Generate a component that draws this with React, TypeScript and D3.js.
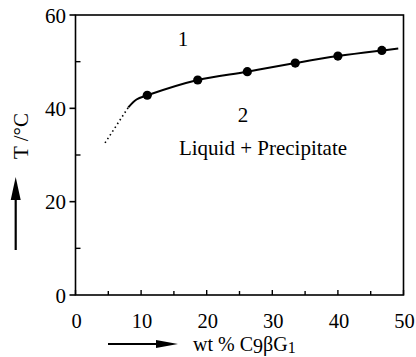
import React from "react";
import * as d3 from "d3";

const pointX = [10.94, 18.63, 26.19, 33.5, 40.0, 46.7];
const pointY = [42.8, 46.07, 47.85, 49.7, 51.2, 52.4];
const curveX = [8.05, 9.3, 10.94, 18.63, 26.19, 33.5, 40.0, 46.7, 49.2];
const curveY = [40.2, 41.9, 42.8, 46.07, 47.85, 49.7, 51.2, 52.4, 52.8];
const dottedX = [4.5, 8.05];
const dottedY = [32.6, 40.2];
const xTicks = [0, 10, 20, 30, 40, 50];
const xMinor = [5, 15, 25, 35, 45];
const yTicks = [0, 20, 40, 60];
const yMinor = [10, 30, 50];

const W = 416, H = 357;
const L = 75.5, R = 403.5, T = 15, B = 295;
const FONT = "Liberation Serif, DejaVu Serif, serif";

export default function App() {
  const x = d3.scaleLinear().domain([0, 50]).range([L, R]);
  const y = d3.scaleLinear().domain([0, 60]).range([B, T]);
  const line = d3.line<[number, number]>().x(d => x(d[0])).y(d => y(d[1])).curve(d3.curveCatmullRom.alpha(0.5));
  const curvePts: [number, number][] = curveX.map((v, i) => [v, curveY[i]]);
  const dotPts: [number, number][] = dottedX.map((v, i) => [v, dottedY[i]]);
  const straight = d3.line<[number, number]>().x(d => x(d[0])).y(d => y(d[1]));
  return (
    <svg width={W} height={H} style={{ position: "absolute", left: 0, top: 0, background: "#fff" }} fontFamily={FONT}>
      <rect x={L} y={T} width={R - L} height={B - T} fill="none" stroke="#000" strokeWidth={1.6} />
      {yTicks.map(t => (
        <g key={"y" + t}>
          <line x1={L - 6} x2={L} y1={y(t)} y2={y(t)} stroke="#000" strokeWidth={1.6} />
          <text x={66} y={y(t) + 3} fontSize={21} textAnchor="end" dominantBaseline="middle">{t}</text>
        </g>
      ))}
      {yMinor.map(t => (
        <line key={"ym" + t} x1={L} x2={L + 5} y1={y(t)} y2={y(t)} stroke="#000" strokeWidth={1.4} />
      ))}
      {xTicks.map(t => (
        <g key={"x" + t}>
          <line x1={x(t)} x2={x(t)} y1={B} y2={B - 5} stroke="#000" strokeWidth={1.4} />
          <text x={x(t) + 1} y={328} fontSize={20.5} textAnchor="middle">{t}</text>
        </g>
      ))}
      {xMinor.map(t => (
        <line key={"xm" + t} x1={x(t)} x2={x(t)} y1={B} y2={B - 4} stroke="#000" strokeWidth={1.4} />
      ))}
      <path d={straight(dotPts) || ""} fill="none" stroke="#000" strokeWidth={1.6} strokeDasharray="1.5 3" />
      <path d={line(curvePts) || ""} fill="none" stroke="#000" strokeWidth={2} />
      {pointX.map((v, i) => (
        <circle key={"p" + i} cx={x(v)} cy={y(pointY[i])} r={4.6} fill="#000" />
      ))}
      <text x={183} y={41} fontSize={21} textAnchor="middle" dominantBaseline="middle">1</text>
      <text x={243} y={117} fontSize={21} textAnchor="middle" dominantBaseline="middle">2</text>
      <text x={263} y={150} fontSize={21} textAnchor="middle" dominantBaseline="middle">Liquid + Precipitate</text>
      <text transform="translate(28,136) rotate(-90)" fontSize={21} textAnchor="middle">T /°C</text>
      <line x1={15.7} y1={250} x2={15.7} y2={198} stroke="#000" strokeWidth={2.2} />
      <path d="M15.7,177 L10.7,200 L20.7,200 Z" fill="#000" />
      <line x1={108} y1={344} x2={158} y2={344} stroke="#000" strokeWidth={2.2} />
      <path d="M178,344 L156,340 L156,348 Z" fill="#000" />
      <text x={193} y={351} fontSize={20}>
        wt % C<tspan dy={2}>9</tspan><tspan dy={-2}>βG</tspan><tspan dy={2} fontSize={16}>1</tspan>
      </text>
    </svg>
  );
}
